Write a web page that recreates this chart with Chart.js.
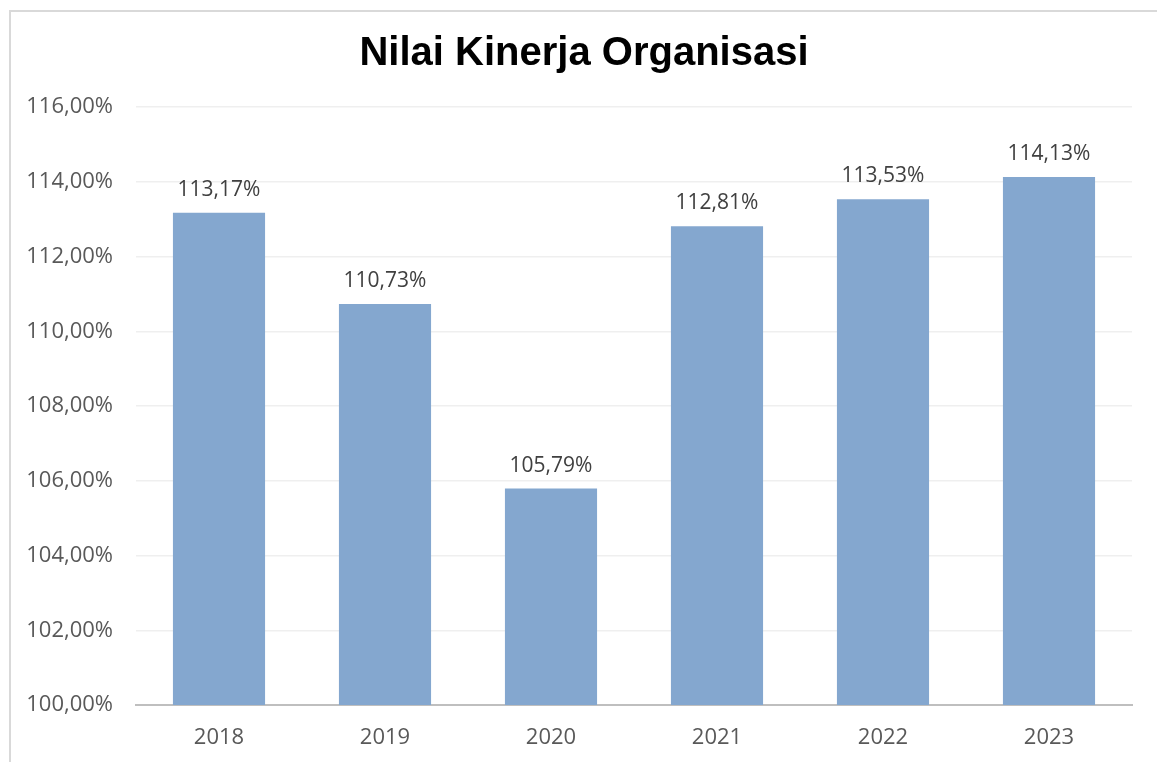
<!DOCTYPE html>
<html>
<head>
<meta charset="utf-8">
<script src="https://cdn.jsdelivr.net/npm/chart.js@4.4.1/dist/chart.umd.min.js"></script>
<style>
html,body{margin:0;padding:0;background:#fff;overflow:hidden;}
#frame{position:absolute;left:9px;top:10px;width:1300px;height:900px;border-top:2px solid #d9d9d9;border-left:2px solid #d9d9d9;box-sizing:border-box;}
#wrap{position:absolute;left:0;top:0;width:1157px;height:762px;}
</style>
</head>
<body>
<div id="frame"></div>
<div id="wrap"><canvas id="c" width="1157" height="762"></canvas></div>
<script>
const chartTitle = "Nilai Kinerja Organisasi";
const categories = ["2018", "2019", "2020", "2021", "2022", "2023"];
const values = [113.17, 110.73, 105.79, 112.81, 113.53, 114.13];
const yMin = 100, yMax = 116, yStep = 2;

const fmt = v => v.toFixed(2).replace('.', ',') + '%';

const labelPlugin = {
  id: 'barLabels',
  afterDatasetsDraw(chart) {
    const ctx = chart.ctx;
    const meta = chart.getDatasetMeta(0);
    ctx.save();
    ctx.font = '21px "Open Sans"';
    ctx.fillStyle = '#404040';
    ctx.textAlign = 'center';
    ctx.textBaseline = 'alphabetic';
    meta.data.forEach((bar, i) => {
      ctx.fillText(fmt(values[i]), bar.x, bar.y - 17);
    });
    ctx.restore();
  }
};

const titlePlugin = {
  id: 'frameTitle',
  afterDraw(chart) {
    const ctx = chart.ctx;
    ctx.save();
    ctx.font = 'bold 40px "Liberation Sans", Arial, sans-serif';
    ctx.fillStyle = '#000';
    ctx.textAlign = 'center';
    ctx.textBaseline = 'alphabetic';
    ctx.fillText(chartTitle, 584, 65);
    ctx.restore();
  }
};

new Chart(document.getElementById('c'), {
  type: 'bar',
  data: {
    labels: categories,
    datasets: [{
      data: values,
      backgroundColor: '#84a7cf',
      borderWidth: 0,
      categoryPercentage: 1,
      barPercentage: 0.555
    }]
  },
  options: {
    responsive: false,
    animation: false,
    layout: { padding: { left: 0, right: 25, top: 107, bottom: 0 } },
    plugins: {
      legend: { display: false },
      tooltip: { enabled: false },
      title: { display: false }
    },
    scales: {
      x: {
        grid: { display: false, drawTicks: false },
        border: { display: true, color: '#bfbfbf', width: 2 },
        ticks: { color: '#595959', font: { family: '"Open Sans"', size: 22 }, padding: 20 },
        afterFit: s => { s.height = 57; }
      },
      y: {
        min: yMin, max: yMax,
        grid: { color: '#efefef', lineWidth: 1.5, drawTicks: false },
        border: { display: false },
        ticks: {
          stepSize: yStep,
          color: '#595959',
          font: { family: '"Open Sans"', size: 22 },
          padding: 23,
          callback: v => fmt(v)
        },
        afterFit: s => { s.width = 136; }
      }
    }
  },
  plugins: [labelPlugin, titlePlugin]
});
</script>
</body>
</html>
